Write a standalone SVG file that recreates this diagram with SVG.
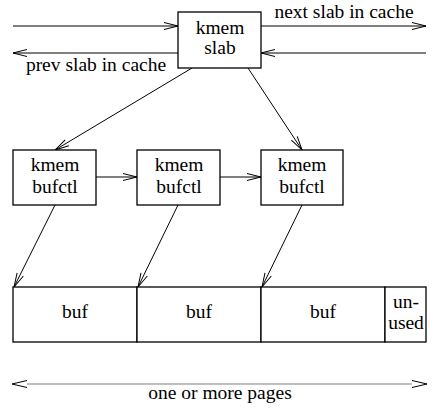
<svg xmlns="http://www.w3.org/2000/svg" width="441" height="409" viewBox="0 0 441 409">
<defs>
<marker id="ah" markerUnits="userSpaceOnUse" markerWidth="16" markerHeight="10" refX="14" refY="4" orient="auto" overflow="visible">
<path d="M0,0.5 L14,4 L0,7.5" fill="none" stroke="#000" stroke-width="1"/>
</marker>
</defs>
<style>
.box{fill:#fff;stroke:#000;stroke-width:1.3}
.t{font-size:19.5px;fill:#000;text-anchor:middle}
.c{stroke:#000;stroke-width:1;fill:none;marker-end:url(#ah)}
</style>
<rect width="441" height="409" fill="#fff"/>
<g font-family="Liberation Serif, serif">
<g id="connectors">
<line class="c" x1="13" y1="26" x2="178" y2="26"/>
<line class="c" x1="261" y1="26" x2="426" y2="26"/>
<line class="c" x1="178" y1="53" x2="13" y2="53"/>
<line class="c" x1="426" y1="53" x2="261" y2="53"/>
<line class="c" x1="192" y1="68" x2="55" y2="150"/>
<line class="c" x1="248" y1="68" x2="302" y2="150"/>
<line class="c" x1="96" y1="177" x2="137" y2="177"/>
<line class="c" x1="220" y1="177" x2="261" y2="177"/>
<line class="c" x1="55" y1="205" x2="14" y2="287"/>
<line class="c" x1="178" y1="205" x2="138" y2="287"/>
<line class="c" x1="302" y1="205" x2="262" y2="287"/>
<g id="pages-arrow">
<line x1="27" y1="384" x2="412" y2="384" stroke="#aaa" stroke-width="1.6"/>
<path d="M27,380.5 L12,384 L27,387.5 M412,380.5 L427,384 L412,387.5" fill="none" stroke="#000" stroke-width="1"/>
</g>
</g>
<g id="slab">
<rect class="box" x="178" y="12" width="83" height="56"/>
<text class="t" x="220" y="34" font-family="Liberation Serif, serif">kmem</text>
<text class="t" x="220" y="54" font-family="Liberation Serif, serif">slab</text>
</g>
<text class="t" x="344" y="18" font-family="Liberation Serif, serif">next slab in cache</text>
<text class="t" x="96" y="71" font-family="Liberation Serif, serif">prev slab in cache</text>
<g id="bufctl1">
<rect class="box" x="13" y="150" width="83" height="55"/>
<text class="t" x="55" y="171" font-family="Liberation Serif, serif">kmem</text>
<text class="t" x="55" y="193" font-family="Liberation Serif, serif">bufctl</text>
</g>
<g id="bufctl2">
<rect class="box" x="137" y="150" width="83" height="55"/>
<text class="t" x="179" y="171" font-family="Liberation Serif, serif">kmem</text>
<text class="t" x="179" y="193" font-family="Liberation Serif, serif">bufctl</text>
</g>
<g id="bufctl3">
<rect class="box" x="261" y="150" width="82" height="55"/>
<text class="t" x="302" y="171" font-family="Liberation Serif, serif">kmem</text>
<text class="t" x="302" y="193" font-family="Liberation Serif, serif">bufctl</text>
</g>
<g id="buf1">
<rect class="box" x="13" y="287" width="124" height="55"/>
<text class="t" x="75" y="318" font-family="Liberation Serif, serif">buf</text>
</g>
<g id="buf2">
<rect class="box" x="137" y="287" width="124" height="55"/>
<text class="t" x="199" y="318" font-family="Liberation Serif, serif">buf</text>
</g>
<g id="buf3">
<rect class="box" x="261" y="287" width="124" height="55"/>
<text class="t" x="323" y="318" font-family="Liberation Serif, serif">buf</text>
</g>
<g id="unused">
<rect class="box" x="385" y="287" width="41" height="55"/>
<text class="t" x="406" y="308" font-family="Liberation Serif, serif">un-</text>
<text class="t" x="406" y="329" font-family="Liberation Serif, serif">used</text>
</g>
<text class="t" x="220" y="399" font-family="Liberation Serif, serif">one or more pages</text>
</g>
</svg>
